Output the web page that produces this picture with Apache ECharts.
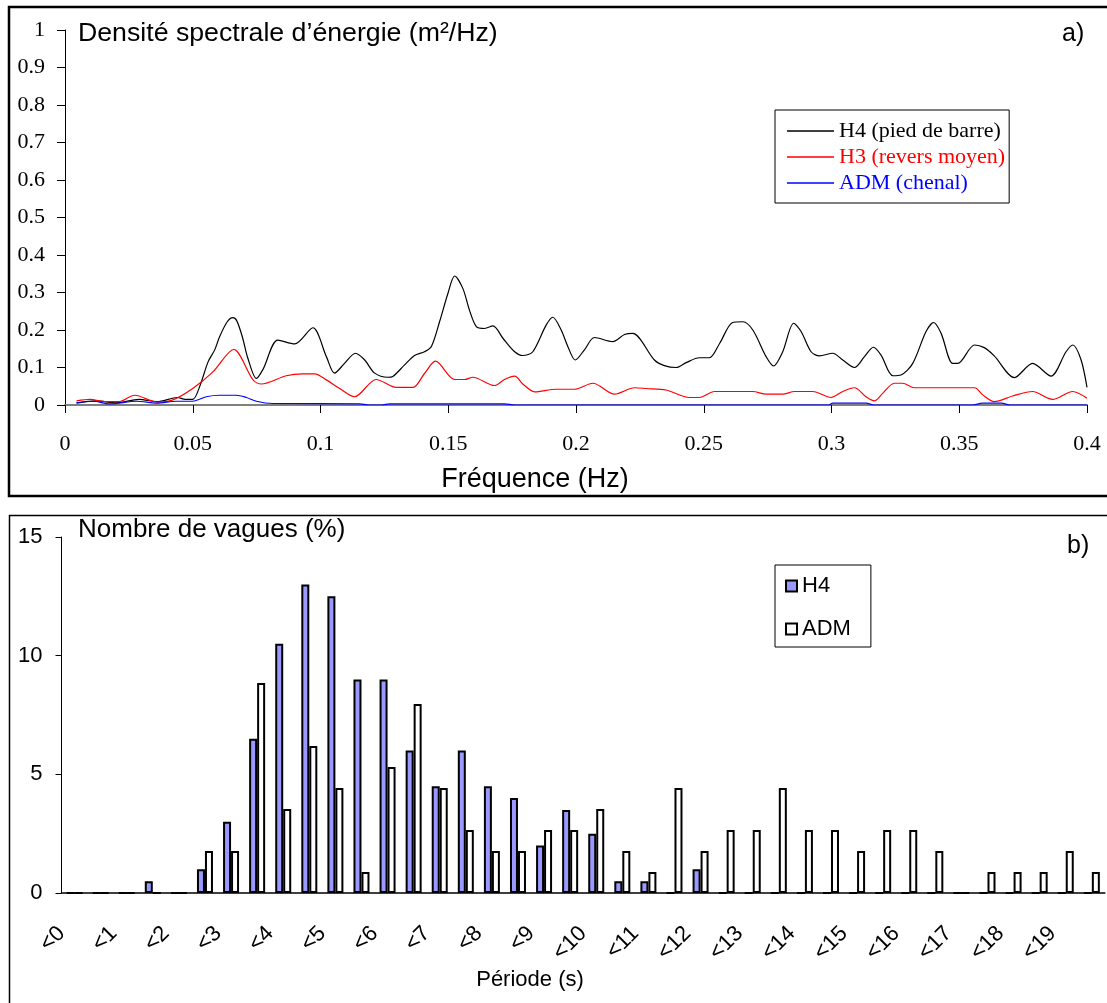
<!DOCTYPE html>
<html>
<head>
<meta charset="utf-8">
<script src="https://cdn.jsdelivr.net/npm/echarts@6/dist/echarts.min.js"></script>
<style>
html,body{margin:0;padding:0;background:#fff;}
#main{width:1107px;height:1003px;}
</style>
</head>
<body>
<div id="main"></div>
<script>
// a) densité spectrale : [fréquence (Hz), densité (m2/Hz)]
var h4Spectre = [
  [0.0045,0.005],[0.0123,0.011],[0.020,0.006],[0.029,0.015],[0.036,0.009],[0.044,0.02],[0.047,0.015],[0.050,0.015],
  [0.0527,0.049],[0.056,0.115],[0.0586,0.147],[0.0605,0.182],[0.0635,0.222],[0.0657,0.233],[0.0672,0.225],[0.0694,0.182],
  [0.0716,0.124],[0.0749,0.071],[0.0775,0.095],[0.0833,0.173],[0.0899,0.163],[0.097,0.206],[0.1023,0.129],[0.1055,0.085],
  [0.1094,0.111],[0.1137,0.138],[0.1173,0.12],[0.1212,0.085],[0.1264,0.074],[0.1283,0.076],[0.1329,0.107],[0.1368,0.132],
  [0.1407,0.142],[0.1434,0.156],[0.1466,0.222],[0.1499,0.298],[0.1525,0.344],[0.1557,0.311],[0.1583,0.253],[0.161,0.209],
  [0.1642,0.204],[0.1675,0.211],[0.1714,0.178],[0.176,0.142],[0.1792,0.132],[0.1831,0.142],[0.1883,0.213],[0.1909,0.234],
  [0.1942,0.2],[0.1968,0.156],[0.1997,0.12],[0.2033,0.147],[0.2072,0.18],[0.2144,0.169],[0.219,0.188],[0.2222,0.191],
  [0.2307,0.12],[0.2346,0.105],[0.2392,0.1],[0.2431,0.113],[0.2483,0.126],[0.2522,0.126],[0.2562,0.164],[0.2613,0.22],
  [0.2653,0.222],[0.2692,0.2],[0.2744,0.129],[0.2773,0.104],[0.2809,0.142],[0.2852,0.218],[0.2881,0.196],[0.292,0.142],
  [0.2953,0.131],[0.3005,0.138],[0.3044,0.12],[0.309,0.1],[0.3129,0.129],[0.3164,0.154],[0.3194,0.133],[0.324,0.078],
  [0.3272,0.08],[0.3318,0.111],[0.337,0.196],[0.34,0.22],[0.3429,0.191],[0.3474,0.111],[0.3494,0.111],[0.356,0.16],
  [0.3598,0.153],[0.3637,0.131],[0.3716,0.073],[0.3787,0.111],[0.3859,0.077],[0.3918,0.142],[0.3944,0.16],[0.3976,0.122],
  [0.4,0.047]
];
var h3Spectre = [
  [0.0045,0.011],[0.0097,0.015],[0.016,0.009],[0.021,0.009],[0.0273,0.026],[0.036,0.008],[0.042,0.013],[0.05,0.044],
  [0.058,0.089],[0.066,0.148],[0.0736,0.067],[0.0768,0.056],[0.0866,0.078],[0.093,0.083],[0.0977,0.083],[0.1023,0.067],
  [0.1075,0.044],[0.1133,0.022],[0.1218,0.068],[0.1297,0.047],[0.1362,0.047],[0.1407,0.084],[0.145,0.117],[0.1525,0.068],
  [0.1564,0.068],[0.1596,0.074],[0.1681,0.052],[0.172,0.068],[0.176,0.077],[0.1792,0.056],[0.1838,0.035],[0.1922,0.042],
  [0.1994,0.042],[0.2066,0.058],[0.2151,0.029],[0.2229,0.046],[0.2275,0.044],[0.2353,0.04],[0.2444,0.02],[0.2483,0.02],
  [0.2542,0.036],[0.2692,0.036],[0.2744,0.029],[0.2809,0.029],[0.2855,0.036],[0.2927,0.036],[0.2998,0.02],[0.3044,0.036],
  [0.309,0.046],[0.3135,0.022],[0.3168,0.011],[0.32,0.031],[0.3246,0.058],[0.3278,0.058],[0.3325,0.046],[0.356,0.046],
  [0.3592,0.027],[0.3637,0.009],[0.3709,0.024],[0.3787,0.036],[0.3865,0.015],[0.3944,0.036],[0.4,0.018]
];
var admSpectre = [
  [0.0045,0.006],[0.011,0.01],[0.0175,0.003],[0.028,0.01],[0.036,0.005],[0.0436,0.01],[0.05,0.01],[0.0553,0.022],
  [0.0605,0.026],[0.067,0.026],[0.071,0.02],[0.0749,0.01],[0.0814,0.004],[0.1153,0.003],[0.119,0],[0.124,0],
  [0.127,0.003],[0.172,0.003],[0.176,0],[0.299,0],[0.3005,0.005],[0.3135,0.005],[0.3168,0],[0.355,0],
  [0.3592,0.005],[0.3665,0.005],[0.37,0],[0.4,0]
];
var freqTicks = ['0','0.05','0.1','0.15','0.2','0.25','0.3','0.35','0.4'];
var densTicks = ['0','0.1','0.2','0.3','0.4','0.5','0.6','0.7','0.8','0.9','1'];

// b) nombre de vagues (%) par classe de période (pas de 0.5 s)
var classesPeriode = ['<0','<0.5','<1','<1.5','<2','<2.5','<3','<3.5','<4','<4.5',
  '<5','<5.5','<6','<6.5','<7','<7.5','<8','<8.5','<9','<9.5',
  '<10','<10.5','<11','<11.5','<12','<12.5','<13','<13.5','<14','<14.5',
  '<15','<15.5','<16','<16.5','<17','<17.5','<18','<18.5','<19','<19.5'];
var h4Vagues = [0,0,0,0.5,0,1,3,6.5,10.5,13,
  12.5,9,9,6,4.5,6,4.5,4,2,3.5,
  2.5,0.5,0.5,0,1,0,0,0,0,0,
  0,0,0,0,0,0,0,0,0,0];
var admVagues = [0,0,0,0,0,1.77,1.77,8.85,3.54,6.19,
  4.42,0.885,5.31,7.96,4.42,2.65,1.77,1.77,2.65,2.65,
  3.54,1.77,0.885,4.42,1.77,2.65,2.65,4.42,2.65,2.65,
  1.77,2.65,2.65,1.77,0,0.885,0.885,0.885,1.77,0.885];
var periodeTicks = ['<0','<1','<2','<3','<4','<5','<6','<7','<8','<9',
  '<10','<11','<12','<13','<14','<15','<16','<17','<18','<19'];
var pctTicks = ['0','5','10','15'];

var serif = '"Liberation Serif", "DejaVu Serif", serif';
var sans = '"Liberation Sans", Arial, sans-serif';

var chart = echarts.init(document.getElementById('main'));
chart.setOption({
  animation: false,
  backgroundColor: '#fff',
  grid: [
    {left: 65, top: 30, width: 1022, height: 375},
    {left: 61.5, top: 537, width: 1048, height: 356}
  ],
  xAxis: [
    {
      gridIndex: 0, type: 'value', min: 0, max: 0.4, interval: 0.05,
      axisLine: {lineStyle: {color: '#808080', width: 2}},
      axisTick: {length: 8, lineStyle: {color: '#000', width: 1}},
      axisLabel: {margin: 28, color: '#000', fontFamily: serif, fontSize: 22,
        formatter: function (v) { return freqTicks[Math.round(v / 0.05)]; }},
      splitLine: {show: false}
    },
    {
      gridIndex: 1, type: 'category', data: classesPeriode, position: 'bottom',
      axisLine: {lineStyle: {color: '#000', width: 1.5}},
      axisTick: {length: 6, lineStyle: {color: '#000'}},
      axisLabel: {show: false},
      splitLine: {show: false}
    },
    {
      // étiquettes "<n" aux limites de classes, tournées à 45°
      gridIndex: 1, type: 'value', min: 0, max: 20, interval: 1, position: 'bottom',
      axisLine: {show: false}, axisTick: {show: false}, splitLine: {show: false},
      axisLabel: {rotate: 45, margin: 37, color: '#000', fontFamily: sans, fontSize: 22,
        formatter: function (v) { return periodeTicks[v] || ''; }}
    }
  ],
  yAxis: [
    {
      gridIndex: 0, type: 'value', min: 0, max: 1, interval: 0.1,
      axisLine: {show: true, lineStyle: {color: '#000', width: 1}},
      axisTick: {show: true, length: 8, lineStyle: {color: '#000'}},
      axisLabel: {margin: 20, color: '#000', fontFamily: serif, fontSize: 22,
        formatter: function (v) { return densTicks[Math.round(v * 10)]; }},
      splitLine: {show: false}
    },
    {
      gridIndex: 1, type: 'value', min: 0, max: 15, interval: 5,
      axisLine: {show: true, lineStyle: {color: '#000', width: 1}},
      axisTick: {show: true, length: 6, lineStyle: {color: '#000'}},
      axisLabel: {margin: 19, color: '#000', fontFamily: sans, fontSize: 22,
        formatter: function (v) { return pctTicks[Math.round(v / 5)]; }},
      splitLine: {show: false}
    }
  ],
  legend: [
    {
      orient: 'vertical', left: 775, top: 110, icon: 'rect',
      padding: [10, 4, 9, 12], itemWidth: 47, itemHeight: 1.5, itemGap: 4,
      borderColor: '#000', borderWidth: 1,
      textStyle: {fontFamily: serif, fontSize: 22, lineHeight: 22},
      data: [
        {name: 'H4 (pied de barre)', textStyle: {color: '#000'}},
        {name: 'H3 (revers moyen)', textStyle: {color: '#ff0000'}},
        {name: 'ADM (chenal)', textStyle: {color: '#0000ff'}}
      ]
    },
    {
      orient: 'vertical', left: 775, top: 565, icon: 'rect',
      padding: [10, 20, 7, 10], itemWidth: 11, itemHeight: 11, itemGap: 21,
      borderColor: '#000', borderWidth: 1,
      textStyle: {fontFamily: sans, fontSize: 22, lineHeight: 22, color: '#000'},
      data: ['H4', 'ADM']
    }
  ],
  graphic: [
    {type: 'rect', shape: {x: 9, y: 7, width: 1120, height: 489},
      style: {fill: 'none', stroke: '#000', lineWidth: 2.5}},
    {type: 'rect', shape: {x: 9.5, y: 515.5, width: 1120, height: 500},
      style: {fill: 'none', stroke: '#000', lineWidth: 1.5}},
    {type: 'text', x: 78, y: 34, style: {text: 'Densité spectrale d’énergie (m²/Hz)',
      font: '26.7px ' + sans, fill: '#000', textVerticalAlign: 'middle'}},
    {type: 'text', x: 1062, y: 34, style: {text: 'a)', font: '25px ' + sans, fill: '#000', textVerticalAlign: 'middle'}},
    {type: 'text', x: 535, y: 480, style: {text: 'Fréquence (Hz)', font: '27px ' + sans, fill: '#000',
      textAlign: 'center', textVerticalAlign: 'middle'}},
    {type: 'text', x: 78, y: 530, style: {text: 'Nombre de vagues (%)', font: '26px ' + sans, fill: '#000', textVerticalAlign: 'middle'}},
    {type: 'text', x: 1067, y: 546, style: {text: 'b)', font: '25px ' + sans, fill: '#000', textVerticalAlign: 'middle'}},
    {type: 'text', x: 530, y: 980, style: {text: 'Période (s)', font: '22px ' + sans, fill: '#000',
      textAlign: 'center', textVerticalAlign: 'middle'}}
  ],
  series: [
    {name: 'H4 (pied de barre)', type: 'line', xAxisIndex: 0, yAxisIndex: 0, data: h4Spectre,
      symbol: 'none', smooth: 0.3, color: '#000', lineStyle: {width: 1.2, color: '#000'}},
    {name: 'H3 (revers moyen)', type: 'line', xAxisIndex: 0, yAxisIndex: 0, data: h3Spectre,
      symbol: 'none', smooth: 0.3, color: '#ff0000', lineStyle: {width: 1.2, color: '#ff0000'}},
    {name: 'ADM (chenal)', type: 'line', xAxisIndex: 0, yAxisIndex: 0, data: admSpectre,
      symbol: 'none', smooth: 0.3, color: '#0000ff', lineStyle: {width: 1.2, color: '#0000ff'}},
    {name: 'H4', type: 'bar', xAxisIndex: 1, yAxisIndex: 1, data: h4Vagues,
      barWidth: 8, barGap: '0%',
      itemStyle: {color: '#9999ff', borderColor: '#000', borderWidth: 2}},
    {name: 'ADM', type: 'bar', xAxisIndex: 1, yAxisIndex: 1, data: admVagues,
      barWidth: 8, barGap: '0%',
      itemStyle: {color: '#ffffff', borderColor: '#000', borderWidth: 2}}
  ]
});
</script>
</body>
</html>
